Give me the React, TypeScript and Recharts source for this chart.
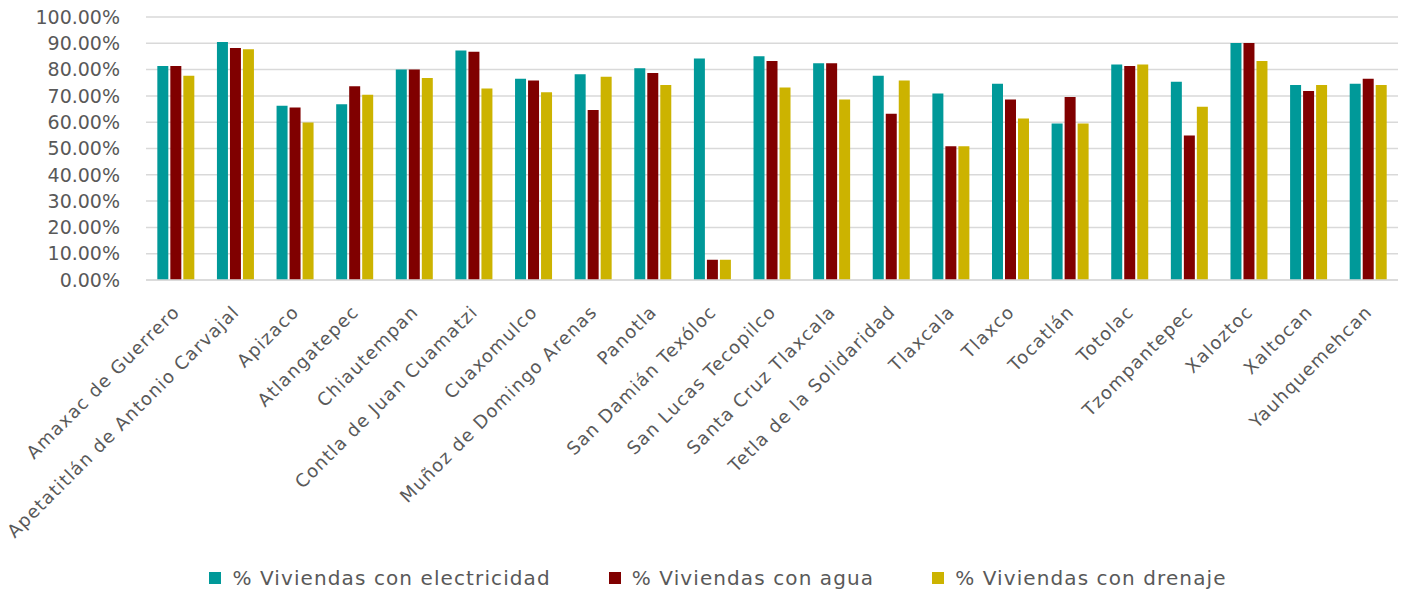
import React from 'react'
import {
  BarChart,
  Bar,
  XAxis,
  YAxis,
  CartesianGrid,
  Legend
} from 'recharts'

const municipios = [
  'Amaxac de Guerrero',
  'Apetatitlán de Antonio Carvajal',
  'Apizaco',
  'Atlangatepec',
  'Chiautempan',
  'Contla de Juan Cuamatzi',
  'Cuaxomulco',
  'Muñoz de Domingo Arenas',
  'Panotla',
  'San Damián Texóloc',
  'San Lucas Tecopilco',
  'Santa Cruz Tlaxcala',
  'Tetla de la Solidaridad',
  'Tlaxcala',
  'Tlaxco',
  'Tocatlán',
  'Totolac',
  'Tzompantepec',
  'Xaloztoc',
  'Xaltocan',
  'Yauhquemehcan'
]

const electricidad = [81.4, 90.5, 66.3, 66.8, 80.0, 87.3, 76.5, 78.2, 80.5, 84.2, 85.1, 82.4, 77.7, 70.9, 74.6, 59.5, 81.9, 75.4, 90.1, 74.1, 74.6]
const agua = [81.4, 88.2, 65.6, 73.7, 80.0, 86.8, 75.9, 64.6, 78.7, 7.7, 83.3, 82.4, 63.2, 50.9, 68.6, 69.6, 81.4, 54.9, 90.1, 71.9, 76.5]
const drenaje = [77.7, 87.7, 59.9, 70.4, 76.8, 72.8, 71.4, 77.3, 74.1, 7.7, 73.2, 68.6, 75.9, 50.9, 61.4, 59.5, 81.9, 65.9, 83.3, 74.1, 74.1]

const yTicks = [0, 10, 20, 30, 40, 50, 60, 70, 80, 90, 100]

const series = [
  { key: 'electricidad', label: '% Viviendas con electricidad', color: '#009999' },
  { key: 'agua', label: '% Viviendas con agua', color: '#800000' },
  { key: 'drenaje', label: '% Viviendas con drenaje', color: '#CCB300' }
]

const FONT = '"DejaVu Sans", sans-serif'
const TEXT = '#595959'

const data = municipios.map((m, i) => ({
  name: m,
  electricidad: electricidad[i],
  agua: agua[i],
  drenaje: drenaje[i]
}))

const AngledTick = ({ x, y, payload }: any) => (
  <g transform={`translate(${x - 2},${y + 18})`}>
    <text
      x={0}
      y={0}
      dy={10}
      textAnchor="end"
      transform="rotate(-45)"
      fill={TEXT}
      fontSize={18}
      letterSpacing={1.2}
      fontFamily={FONT}
    >
      {payload.value}
    </text>
  </g>
)

const LegendContent = () => (
  <div style={{ display: 'flex', justifyContent: 'center', gap: 58, paddingLeft: 38, paddingTop: 6, fontFamily: FONT }}>
    {series.map(s => (
      <div key={s.key} style={{ display: 'flex', alignItems: 'center', gap: 11 }}>
        <span style={{ width: 12, height: 12, background: s.color, display: 'inline-block' }} />
        <span style={{ color: TEXT, fontSize: 20, letterSpacing: 1.1 }}>{s.label}</span>
      </div>
    ))}
  </div>
)

export default function App() {
  return (
    <div style={{ position: 'absolute', top: 0, left: 0, width: 1403, height: 596, background: '#fff' }}>
      <BarChart
        width={1403}
        height={596}
        data={data}
        margin={{ top: 17, right: 5, left: 0, bottom: 4 }}
        barCategoryGap="19%"
        barGap={2}
      >
        <CartesianGrid vertical={false} stroke="#d9d9d9" strokeWidth={1.5} />
        <XAxis
          dataKey="name"
          interval={0}
          tick={<AngledTick />}
          tickLine={false}
          axisLine={{ stroke: '#d9d9d9', strokeWidth: 1.5 }}
          height={280}
        />
        <YAxis
          width={146}
          domain={[0, 100]}
          ticks={yTicks}
          interval={0}
          tickFormatter={(v) => `${v.toFixed(2)}%`}
          tick={{ fill: TEXT, fontSize: 19, fontFamily: FONT }}
          axisLine={false}
          tickLine={false}
          tickMargin={20}
        />
        <Legend verticalAlign="bottom" height={32} content={<LegendContent />} />
        {series.map(s => (
          <Bar key={s.key} dataKey={s.key} name={s.label} fill={s.color} isAnimationActive={false} />
        ))}
      </BarChart>
    </div>
  )
}
